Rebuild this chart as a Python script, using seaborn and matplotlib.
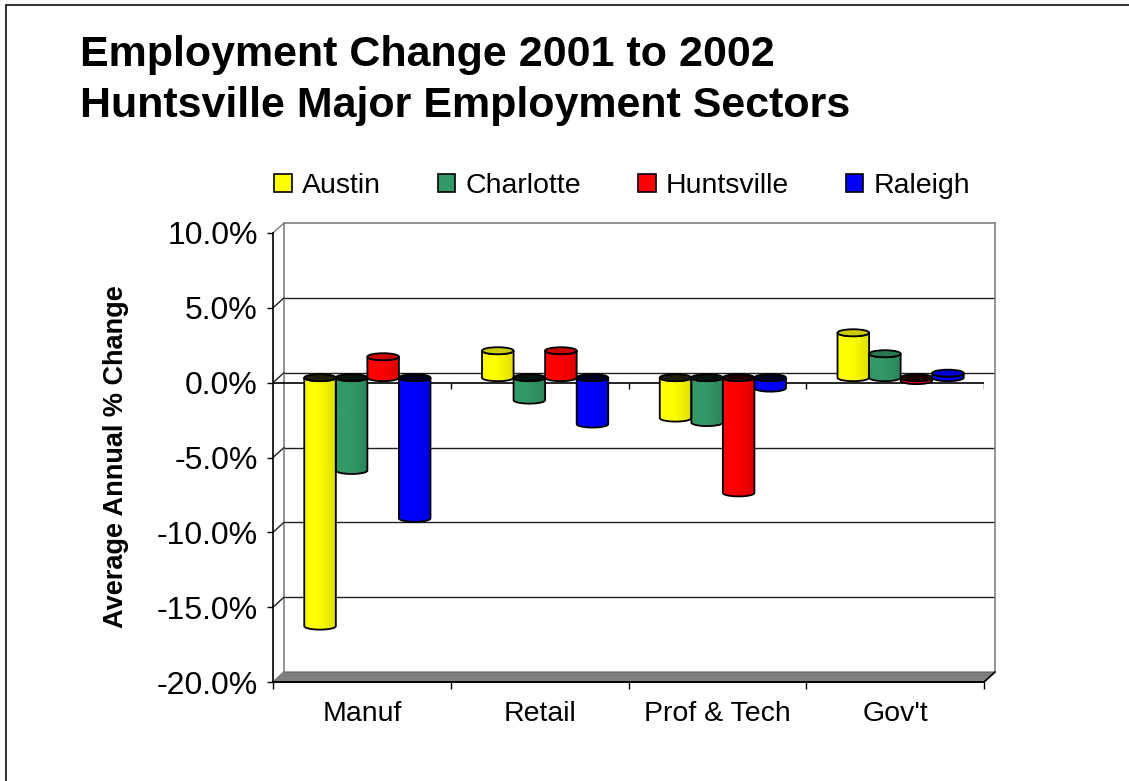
import numpy as np
import pandas as pd
import matplotlib
matplotlib.use("Agg")
import matplotlib.pyplot as plt
from matplotlib.patches import Patch, Polygon, Ellipse, Rectangle
from matplotlib.lines import Line2D
from matplotlib.transforms import IdentityTransform
import seaborn as sns

# ---- data (average annual % change, 2001 -> 2002) ----
sectors = ["Manuf", "Retail", "Prof & Tech", "Gov't"]
cities = ["Austin", "Charlotte", "Huntsville", "Raleigh"]
austin = [-16.6, 1.8, -2.7, 3.0]
charlotte = [-6.2, -1.5, -3.0, 1.6]
huntsville = [1.4, 1.8, -7.7, -0.2]
raleigh = [-9.4, -3.1, -0.7, 0.3]
city_colors = ["#FFFF00", "#339966", "#FF0000", "#0000FF"]
y_ticks = [-20, -15, -10, -5, 0, 5, 10]

df = pd.DataFrame({
    "sector": sectors * 4,
    "city": [c for c in cities for _ in sectors],
    "value": austin + charlotte + huntsville + raleigh,
})

sns.set_theme(style="white")
plt.rcParams["font.family"] = ["Liberation Sans", "DejaVu Sans"]
plt.rcParams["text.color"] = "black"
plt.rcParams["xtick.color"] = "black"
plt.rcParams["ytick.color"] = "black"

W, H = 1129, 781
fig = plt.figure(figsize=(W / 100, H / 100), dpi=100)
fig.patch.set_facecolor("white")


def frac(x0, y_top, w, h):
    return [x0 / W, 1 - (y_top + h) / H, w / W, h / H]


# front plane of the pseudo-3D plot box (pixels) and its depth offset
FX, FY, FW, FH = 273, 233, 711, 449
DX, DY = 11, 10
YMIN, YMAX = -20, 10
XMIN, XMAX = -0.5, 3.5

# back wall with gridlines
back = fig.add_axes(frac(FX + DX, FY - DY, FW, FH), zorder=0)
back.set_xlim(XMIN, XMAX)
back.set_ylim(YMIN, YMAX)
back.set_facecolor("white")
back.set_xticks([])
back.set_yticks([])
for side in ["left", "top", "right"]:
    back.spines[side].set_color("#808080")
    back.spines[side].set_linewidth(1.2)
back.spines["bottom"].set_visible(False)
for v in y_ticks[1:-1]:
    back.axhline(v, color="#202020", lw=1.0)

# front axes: value axis, category axis, tick labels
front = fig.add_axes(frac(FX, FY, FW, FH), zorder=1)
front.set_facecolor("none")
front.set_xlim(XMIN, XMAX)
front.set_ylim(YMIN, YMAX)
for side in ["top", "right"]:
    front.spines[side].set_visible(False)
for side in ["left", "bottom"]:
    front.spines[side].set_color("black")
    front.spines[side].set_linewidth(1.2)
front.set_yticks(y_ticks)
front.set_yticklabels([f"{v:.1f}%" for v in y_ticks])
boundaries = np.arange(len(sectors) + 1) - 0.5
front.set_xticks(boundaries)
front.set_xticklabels([""] * len(boundaries))
front.set_xticks(np.arange(len(sectors)), minor=True)
front.set_xticklabels(sectors, minor=True)
front.tick_params(axis="y", length=4, width=1, labelsize=23, pad=7, left=True)
front.tick_params(axis="x", which="major", length=5, width=1, bottom=True)
front.tick_params(axis="x", which="minor", length=0, labelsize=20.5, pad=14)
front.axhline(0, color="black", lw=1.2)
tick_len = 6 * (YMAX - YMIN) / FH
front.vlines(boundaries[1:], -tick_len, 0, color="black", lw=1)

# gray floor and the left-wall connectors (drawn in display pixels)
to_disp = front.transData.transform
p0 = to_disp((XMIN, YMIN))
p1 = to_disp((XMAX, YMIN))
off = np.array([DX, DY])
floor = Polygon([p0, p1, p1 + off, p0 + off], closed=True,
                facecolor="#808080", edgecolor="#606060", lw=0.8,
                transform=IdentityTransform(), zorder=0.5)
fig.add_artist(floor)
for v in y_ticks:
    a = to_disp((XMIN, v))
    col = "#808080" if v in (YMIN, YMAX) else "#202020"
    fig.add_artist(Line2D([a[0], a[0] + DX], [a[1], a[1] + DY], color=col,
                          lw=1.0, transform=IdentityTransform(), zorder=0.6))
b = to_disp((XMAX, YMIN))
fig.add_artist(Line2D([b[0], b[0] + DX], [b[1], b[1] + DY], color="black",
                      lw=1.2, transform=IdentityTransform(), zorder=0.6))
fig.add_artist(Line2D([p0[0], p1[0]], [p0[1], p1[1]], color="black",
                      lw=1.2, transform=IdentityTransform(), zorder=0.7))

# bars sit half-way into the box depth
bars_ax = fig.add_axes(frac(FX + DX / 2, FY - DY / 2, FW, FH), zorder=2)
bars_ax.set_facecolor("none")
sns.barplot(data=df, x="sector", y="value", hue="city", order=sectors,
            hue_order=cities, palette=city_colors, saturation=1, width=0.71,
            errorbar=None, linewidth=0, legend=False, ax=bars_ax)
bars_ax.set_xlim(XMIN, XMAX)
bars_ax.set_ylim(YMIN, YMAX)
bars_ax.axis("off")

cap_h = 7 * (YMAX - YMIN) / FH
shade = np.linspace(0, 1, 64)
shade = 1 - 0.13 * np.clip((shade - 0.42) / 0.58, 0, 1)


def cylinder(ax, bar, color):
    rgb = np.array(matplotlib.colors.to_rgb(color))
    x0, w = bar.get_x(), bar.get_width()
    x1, cx = x0 + w, x0 + w / 2
    v = bar.get_y() + bar.get_height()
    top, bot = max(v, 0.0), min(v, 0.0)
    ry = cap_h / 2
    t = np.linspace(0, np.pi, 40)
    lower = np.column_stack([cx - w / 2 * np.cos(t), bot - ry * np.sin(t)])
    upper = np.column_stack([cx + w / 2 * np.cos(t), top - ry * np.sin(t)])
    body = Polygon(np.vstack([lower, upper]), closed=True, facecolor="none",
                   edgecolor="black", lw=1.3, zorder=4)
    ax.add_patch(body)
    grad = (shade[:, None] * rgb[None, :])[None, :, :]
    im = ax.imshow(grad, extent=[x0, x1, bot - ry, top], aspect="auto",
                   interpolation="bilinear", zorder=3)
    im.set_clip_path(body)
    cap_col = rgb * 0.8 if v > 0 else rgb * 0.12
    ax.add_patch(Ellipse((cx, top), w, cap_h, facecolor=cap_col,
                         edgecolor="black", lw=1.3, zorder=5))


for container, color in zip(bars_ax.containers, city_colors):
    for bar in container:
        cylinder(bars_ax, bar, color)
bars_ax.set_xlim(XMIN, XMAX)
bars_ax.set_ylim(YMIN, YMAX)

# titles, axis label, legend, outer frame
fig.text(80 / W, 1 - 66 / H, "Employment Change 2001 to 2002", fontsize=31,
         fontweight="bold", ha="left", va="baseline")
fig.text(80 / W, 1 - 117 / H, "Huntsville Major Employment Sectors", fontsize=31,
         fontweight="bold", ha="left", va="baseline")
fig.text(116 / W, 1 - 457 / H, "Average Annual % Change", rotation=90,
         fontsize=19.5, fontweight="bold", ha="center", va="center")

handles = [Patch(facecolor=c, edgecolor="black", lw=1.2) for c in city_colors]
fig.legend(handles, cities, loc="center", bbox_to_anchor=(622 / W, 1 - 186 / H),
           ncol=4, frameon=False, fontsize=20.5, handlelength=0.62,
           handleheight=0.56, handletextpad=0.35, columnspacing=2.0)

fig.add_artist(Rectangle((6 / W, -0.2), 1.3, 1.2 - 5 / H, transform=fig.transFigure,
                         fill=False, edgecolor="#202020", lw=1.3))

fig.savefig("out.png", dpi=100, facecolor="white")
